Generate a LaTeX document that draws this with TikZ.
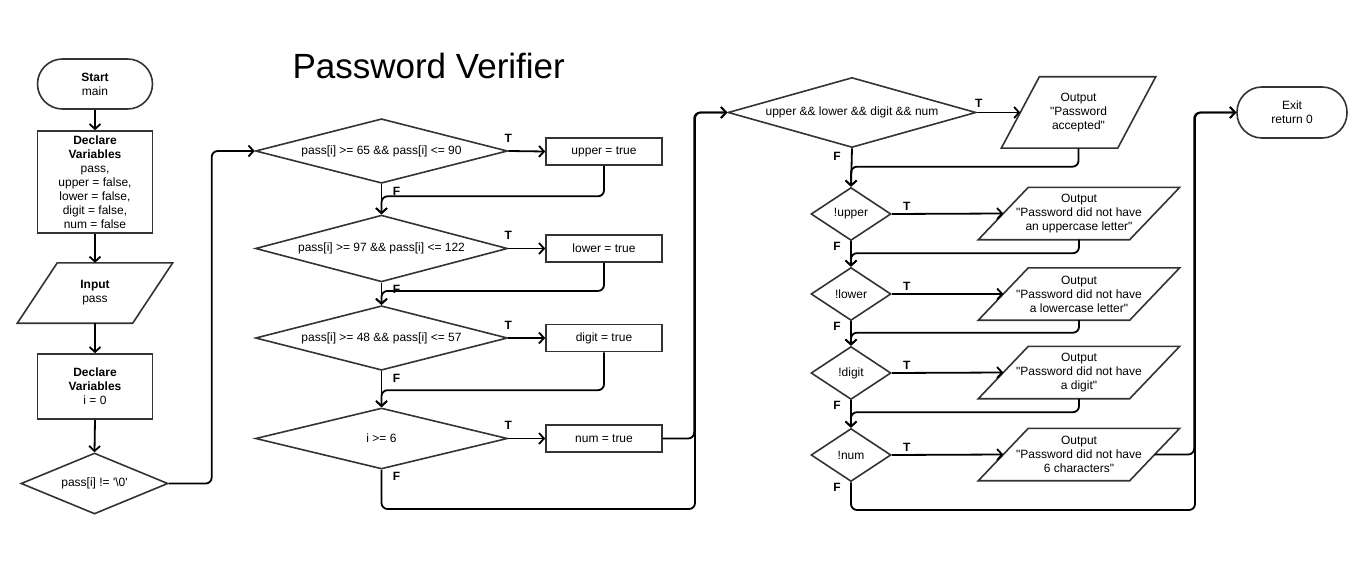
\documentclass[tikz,border=0pt]{standalone}
\usepackage{fontspec}
\setmainfont{Liberation Sans}
\usetikzlibrary{shapes.geometric,arrows.meta,calc}
\definecolor{shp}{HTML}{333333}
\newcommand\ioshape[2]{%
  \draw[shp, line width=1.6pt, line join=miter]
    ($(#1.north west)+(#2/2,0)$) -- ($(#1.north east)+(#2/2,0)$) --
    ($(#1.south east)+(-#2/2,0)$) -- ($(#1.south west)+(-#2/2,0)$) -- cycle;}
\newcommand\dq{\textquotedbl}
\begin{document}
\begin{tikzpicture}[x=1pt,y=-1pt,
  every node/.append style={font=\fontsize{12}{14}\selectfont, text=black},
  box/.style={draw=shp, line width=1.6pt, rectangle, inner sep=0pt, align=center},
  term/.style={box, rounded corners=25pt},
  io/.style={rectangle, draw=none, inner sep=0pt, align=center},
  dia/.style={diamond, draw=shp, line width=1.6pt, inner sep=0pt, align=center, aspect=3},
  lbl/.style={inner sep=0pt, font=\fontsize{12}{14}\selectfont\bfseries},
  conn/.style={draw=black, line width=1.8pt, rounded corners=6pt,
    -{Straight Barb[length=5pt,width=11pt]}}
]
\fill[white] (0,0) rectangle (1368,575);
\useasboundingbox (0,0) rectangle (1368,575);

\node[anchor=base west, font=\fontsize{35}{40}\selectfont] (title) at (289,79) {Password Verifier};

% left column
\node[term, minimum width=115pt, minimum height=50pt] (start) at (95,84) {\textbf{Start}\\main};
\node[box, minimum width=115pt, minimum height=102pt] (decl) at (95,182) {\textbf{Declare}\\\textbf{Variables}\\pass,\\upper = false,\\lower = false,\\digit = false,\\num = false};
\node[io, minimum width=115pt, minimum height=60pt] (inp) at (95,293) {\textbf{Input}\\pass};
\ioshape{inp}{40}
\node[box, minimum width=115pt, minimum height=65pt] (decl2) at (95,386.5) {\textbf{Declare}\\\textbf{Variables}\\i = 0};
\node[dia, minimum width=147pt, minimum height=61pt] (d0) at (94.5,483.5) {pass[i] != \textquotesingle\textbackslash 0\textquotesingle};

% middle column
\node[dia, minimum width=252pt, minimum height=61pt] (d1) at (381.5,151) {pass[i] >= 65 \&\& pass[i] <= 90};
\node[dia, minimum width=252pt, minimum height=61pt] (d2) at (381.5,248.5) {pass[i] >= 97 \&\& pass[i] <= 122};
\node[dia, minimum width=252pt, minimum height=61pt] (d3) at (381.5,338) {pass[i] >= 48 \&\& pass[i] <= 57};
\node[dia, minimum width=252pt, minimum height=61pt] (d4) at (381.5,438.5) {i >= 6};
\node[box, minimum width=116pt, minimum height=27pt] (u1) at (604,151.5) {upper = true};
\node[box, minimum width=116pt, minimum height=27pt] (l1) at (604,248.5) {lower = true};
\node[box, minimum width=116pt, minimum height=27pt] (g1) at (604,338) {digit = true};
\node[box, minimum width=116pt, minimum height=27pt] (n1) at (604,438.5) {num = true};

% right part
\node[dia, minimum width=248pt, minimum height=70pt] (dB) at (852,112.5) {upper \&\& lower \&\& digit \&\& num};
\node[io, minimum width=116pt, minimum height=71pt] (o1) at (1078.5,112.5) {Output\\\dq Password\\accepted\dq};
\ioshape{o1}{38}
\node[dia, minimum width=80pt, minimum height=53pt, aspect=1.5] (dU) at (851,214) {!upper};
\node[dia, minimum width=80pt, minimum height=53pt, aspect=1.5] (dL) at (851,294) {!lower};
\node[dia, minimum width=80pt, minimum height=53pt, aspect=1.5] (dD) at (851,373) {!digit};
\node[dia, minimum width=80pt, minimum height=53pt, aspect=1.5] (dN) at (851,455) {!num};
\node[io, minimum width=151pt, minimum height=52pt] (o2) at (1079,213.5) {Output\\\dq Password did not have\\an uppercase letter\dq};
\ioshape{o2}{50}
\node[io, minimum width=151pt, minimum height=52pt] (o3) at (1079,294) {Output\\\dq Password did not have\\a lowercase letter\dq};
\ioshape{o3}{50}
\node[io, minimum width=151pt, minimum height=52pt] (o4) at (1079,372.5) {Output\\\dq Password did not have\\a digit\dq};
\ioshape{o4}{50}
\node[io, minimum width=151pt, minimum height=52pt] (o5) at (1079,454.5) {Output\\\dq Password did not have\\6 characters\dq};
\ioshape{o5}{50}
\node[term, minimum width=110pt, minimum height=51pt] (ex) at (1292,112.5) {Exit\\return 0};

% connectors left
\draw[conn] (start.south) -- (decl.north);
\draw[conn] (decl.south) -- (inp.north);
\draw[conn] (inp.south) -- (decl2.north);
\draw[conn] (decl2.south) -- (d0.north);
\draw[conn] (d0.east) -| ($(d1.west)+(-43,0)$) -- (d1.west);

% middle
\draw[conn] (d1.south) -- (d2.north);
\draw[conn] (u1.south) |- ($(d2.north)+(0,-18)$) -- (d2.north);
\draw[conn] (d2.south) -- (d3.north);
\draw[conn] (l1.south) |- ($(d3.north)+(0,-14)$) -- (d3.north);
\draw[conn] (d3.south) -- (d4.north);
\draw[conn] (g1.south) |- ($(d4.north)+(0,-17)$) -- (d4.north);
\coordinate (jA) at (695,509);
\draw[conn] (n1.east) -| ($(dB.west)+(-33,0)$) -- (dB.west);
\draw[conn] (d4.south) |- (jA) |- (dB.west);
\foreach \d/\b in {d1/u1,d2/l1,d3/g1,d4/n1}{
  \draw[conn] (\d.east) -- (\b.west);
  \node[lbl] at ($(\d.east)+(0,-13)$) {T};
  \node[lbl] at ($(\d.south)+(15,7)$) {F};
}

% right
\draw[conn] (dB.east) -- (o1.west);
\node[lbl] at ($(dB.east)+(2,-9)$) {T};
\node[lbl] at ($(dB.south)+(-15,8)$) {F};
\draw[conn] (dB.south) -- (dU.north);
\draw[conn] (o1.south) |- ($(dU.north)+(0,-20)$) -- (dU.north);
\draw[conn] (dU.south) -- (dL.north);
\draw[conn] (o2.south) |- ($(dL.north)+(0,-13.5)$) -- (dL.north);
\draw[conn] (dL.south) -- (dD.north);
\draw[conn] (o3.south) |- ($(dD.north)+(0,-13)$) -- (dD.north);
\draw[conn] (dD.south) -- (dN.north);
\draw[conn] (o4.south) |- ($(dN.north)+(0,-15.5)$) -- (dN.north);
\coordinate (jB) at (1195,510);
\draw[conn] (o5.east) -| ($(ex.west)+(-42,0)$) -- (ex.west);
\draw[conn] (dN.south) |- (jB) |- (ex.west);
\foreach \d/\o in {dU/o2,dL/o3,dD/o4,dN/o5}{
  \draw[conn] (\d.east) -- (\o.west);
  \node[lbl] at ($(\d.east)+(15,-8)$) {T};
  \node[lbl] at ($(\d.south)+(-14,5)$) {F};
}
\end{tikzpicture}
\end{document}
